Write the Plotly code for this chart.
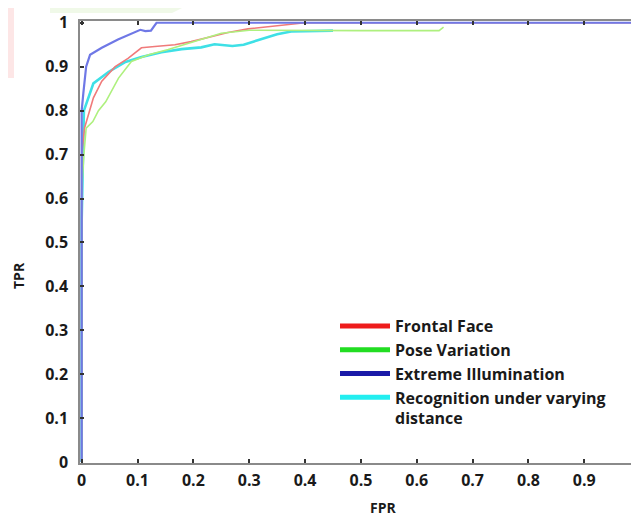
import plotly.graph_objects as go

# ---- data ----
fpr_frontal = [0, 0, 0.005, 0.012, 0.021, 0.036, 0.06, 0.083, 0.107, 0.131, 0.167, 0.196, 0.226, 0.262, 0.298, 0.334, 0.37, 0.40, 1.0]
tpr_frontal = [0, 0.70, 0.76, 0.79, 0.829, 0.867, 0.90, 0.919, 0.943, 0.946, 0.95, 0.957, 0.966, 0.978, 0.986, 0.991, 0.995, 1.0, 1.0]

fpr_pose = [0, 0, 0.004, 0.008, 0.02, 0.03, 0.043, 0.066, 0.089, 0.12, 0.155, 0.19, 0.226, 0.25, 0.30, 0.40, 0.50, 0.64, 0.648]
tpr_pose = [0, 0.62, 0.70, 0.76, 0.775, 0.80, 0.82, 0.874, 0.912, 0.927, 0.939, 0.953, 0.966, 0.976, 0.983, 0.982, 0.982, 0.982, 0.99]

fpr_illum = [0, 0, 0.003, 0.008, 0.015, 0.036, 0.065, 0.095, 0.105, 0.114, 0.124, 0.134, 1.0]
tpr_illum = [0, 0.80, 0.84, 0.90, 0.927, 0.943, 0.962, 0.978, 0.984, 0.981, 0.982, 1.0, 1.0]

fpr_dist = [0, 0, 0.004, 0.021, 0.048, 0.077, 0.107, 0.143, 0.179, 0.214, 0.238, 0.27, 0.29, 0.32, 0.35, 0.375, 0.45]
tpr_dist = [0, 0.55, 0.80, 0.862, 0.888, 0.910, 0.922, 0.933, 0.940, 0.944, 0.951, 0.947, 0.950, 0.962, 0.974, 0.980, 0.982]

names = ["Frontal Face", "Pose Variation", "Extreme Illumination", "Recognition under varying<br>distance"]
curve_colors = ["#f07a7a", "#aef07e", "#6f78e6", "#3ee0e6"]
legend_colors = ["#ee1c1c", "#22dd22", "#1a1aa8", "#22eef0"]

x_ticks = [0, 0.1, 0.2, 0.3, 0.4, 0.5, 0.6, 0.7, 0.8, 0.9]
x_tick_labels = ["0", "0.1", "0.2", "0.3", "0.4", "0.5", "0.6", "0.7", "0.8", "0.9"]
y_ticks = [0, 0.1, 0.2, 0.3, 0.4, 0.5, 0.6, 0.7, 0.8, 0.9, 1.0]
y_tick_labels = ["0", "0.1", "0.2", "0.3", "0.4", "0.5", "0.6", "0.7", "0.8", "0.9", "1"]

FONT = "Open Sans"

fig = go.Figure()

# curves (drawn order: cyan, red, green, blue)
curves = [
    (fpr_dist, tpr_dist, 3, 2.6),
    (fpr_frontal, tpr_frontal, 0, 1.6),
    (fpr_pose, tpr_pose, 1, 1.6),
    (fpr_illum, tpr_illum, 2, 2.2),
]
for xs, ys, idx, w in curves:
    fig.add_trace(go.Scatter(x=xs, y=ys, mode="lines", showlegend=False,
                             line=dict(color=curve_colors[idx], width=w), hoverinfo="skip"))

# legend entries with saturated colours
for i, nm in enumerate(names):
    fig.add_trace(go.Scatter(x=[None], y=[None], mode="lines", name=nm,
                             line=dict(color=legend_colors[i], width=5)))

# page body has an 8px margin: figure pixel = screen pixel - 8
OFF = 8
W, H = 631, 508
L, T = 80 - OFF, 21 - OFF
B = H - (463 - OFF)
pw = W - L
ph = H - T - B

def sx(px):  # screen x -> paper
    return (px - OFF - L) / pw

def sy(py):  # screen y -> paper
    return (H - B - (py - OFF)) / ph

shapes = []
# faint watermark patches in top-left corner
shapes.append(dict(type="rect", xref="paper", yref="paper", x0=sx(8), y0=sy(78), x1=sx(14), y1=sy(8),
                   fillcolor="#fde6e6", line=dict(width=0), layer="below"))
shapes.append(dict(type="path", xref="paper", yref="paper",
                   path=f"M{sx(50)},{sy(8)} L{sx(182)},{sy(8)} L{sx(172)},{sy(13)} L{sx(50)},{sy(13)} Z",
                   fillcolor="#f0f9e8", line=dict(width=0), layer="below"))

tickfont = dict(family=FONT, size=16, color="#1a1a1a", weight="bold")

fig.update_layout(
    width=W, height=H,
    margin=dict(l=L, r=0, t=T, b=B, autoexpand=False),
    paper_bgcolor="white", plot_bgcolor="white",
    shapes=shapes,
    xaxis=dict(range=[-0.003, 0.998], tickvals=x_ticks, ticktext=x_tick_labels,
               showline=True, linecolor="#8a8a8a", linewidth=1.5, mirror="ticks",
               ticks="inside", ticklen=4, tickwidth=1.5, tickcolor="#333333",
               showgrid=False, zeroline=False, automargin=False,
               ticklabelstandoff=2, tickfont=tickfont),
    yaxis=dict(range=[-0.002, 1.004], tickvals=y_ticks, ticktext=y_tick_labels,
               showline=True, linecolor="#8a8a8a", linewidth=1.5, mirror=False,
               ticks="inside", ticklen=4, tickwidth=1.5, tickcolor="#333333",
               showgrid=False, zeroline=False, automargin=False,
               ticklabelstandoff=7, tickfont=tickfont),
    legend=dict(xref="container", yref="container", x=327 / W, y=1 - 301 / H,
                xanchor="left", yanchor="top", bgcolor="rgba(0,0,0,0)",
                font=dict(family=FONT, size=16, color="#1a1a1a", weight="bold"),
                tracegroupgap=0, itemwidth=50, valign="top"),
    annotations=[
        dict(text="<b>TPR</b>", xref="paper", yref="paper", x=sx(18), y=sy(276),
             xanchor="center", yanchor="middle",
             showarrow=False, textangle=-90, font=dict(family=FONT, size=14, color="#1a1a1a")),
        dict(text="<b>FPR</b>", xref="paper", yref="paper", x=sx(383), y=sy(507),
             xanchor="center", yanchor="middle",
             showarrow=False, font=dict(family=FONT, size=14, color="#1a1a1a")),
    ],
)

fig.write_html("out.html")
